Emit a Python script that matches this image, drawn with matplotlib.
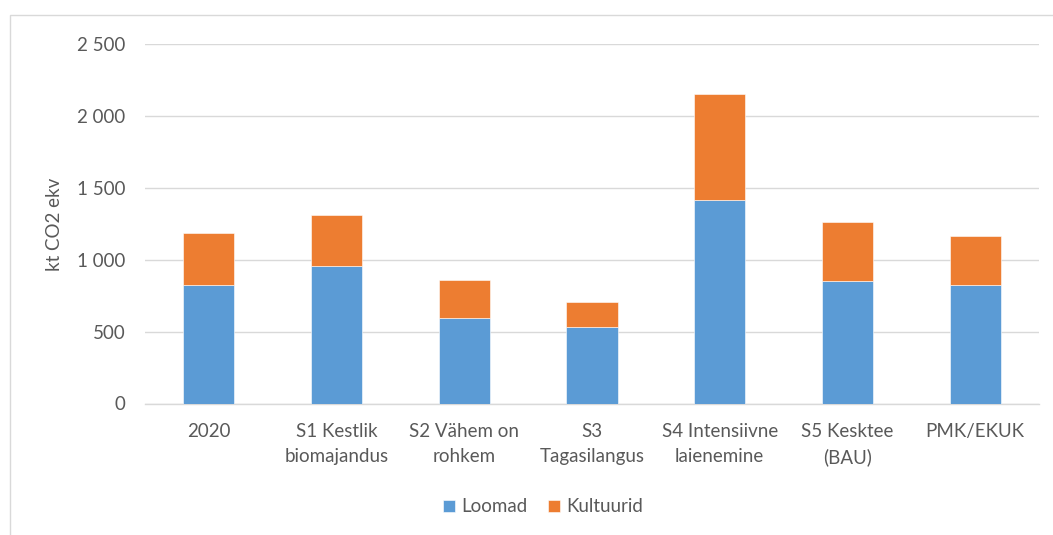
import matplotlib
matplotlib.use("Agg")
import matplotlib.pyplot as plt
from matplotlib.patches import Rectangle
from matplotlib.ticker import FuncFormatter

categories = ["2020", "S1 Kestlik\nbiomajandus", "S2 Vähem on\nrohkem", "S3\nTagasilangus",
              "S4 Intensiivne\nlaienemine", "S5 Kesktee\n(BAU)", "PMK/EKUK"]
loomad = [822, 957, 592, 530, 1415, 850, 822]
kultuurid = [368, 353, 267, 176, 739, 412, 343]
y_ticks = [0, 500, 1000, 1500, 2000, 2500]

BLUE = "#5B9BD5"
ORANGE = "#ED7D31"
TEXT = "#595959"
GRID = "#D9D9D9"
FS = 13.5

plt.rcParams["font.family"] = ["Lato", "DejaVu Sans"]

W, H = 1053, 535
fig = plt.figure(figsize=(W / 100, H / 100), dpi=100)

# outer chart frame
fig.patches.append(Rectangle((10 / W, -0.05), 1.1, 1 - 15 / H + 0.05, transform=fig.transFigure,
                             fill=False, edgecolor=GRID, linewidth=1.0))

left, right, top, bottom = 145, 1039, 44.4, 403.5
ax = fig.add_axes([left / W, 1 - bottom / H, (right - left) / W, (bottom - top) / H])

x = list(range(len(categories)))
ax.bar(x, loomad, width=0.4, color=BLUE, edgecolor="white", linewidth=0.4, label="Loomad", zorder=3)
ax.bar(x, kultuurid, width=0.4, bottom=loomad, color=ORANGE, edgecolor="white", linewidth=0.4,
       label="Kultuurid", zorder=3)

ax.set_xlim(-0.5, len(categories) - 0.5)
ax.set_ylim(0, 2500)
ax.set_yticks(y_ticks)
ax.yaxis.set_major_formatter(FuncFormatter(lambda v, p: f"{int(v):,}".replace(",", " ")))
ax.set_xticks(x)
ax.set_xticklabels(categories, linespacing=1.55)

ax.grid(axis="y", color=GRID, linewidth=1.0, zorder=0)
for s in ["top", "right", "left"]:
    ax.spines[s].set_visible(False)
ax.spines["bottom"].set_color(GRID)
ax.spines["bottom"].set_linewidth(1.0)
ax.tick_params(axis="both", length=0, colors=TEXT, labelsize=FS)
ax.tick_params(axis="y", pad=14)
ax.tick_params(axis="x", pad=14)

ax.set_ylabel("kt CO2 ekv", color=TEXT, fontsize=FS, va="center")
ax.yaxis.set_label_coords((54 - left) / (right - left), 0.5)

leg = fig.legend(loc="center", bbox_to_anchor=(543 / W, 1 - 507 / H), ncol=2, frameon=False,
                 fontsize=FS, handlelength=0.62, handleheight=0.62, handletextpad=0.35,
                 columnspacing=1.1, labelcolor=TEXT)

fig.savefig("out.png", dpi=100, facecolor="white")
